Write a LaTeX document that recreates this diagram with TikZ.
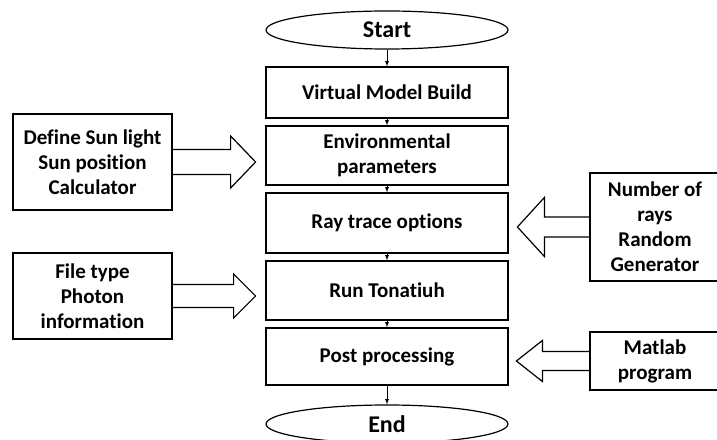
\documentclass[tikz,border=0pt]{standalone}
\usepackage{fontspec}
\setmainfont{Carlito}[Ligatures=NoCommon]
\usepackage{tikz}
\usetikzlibrary{shapes.geometric}

\tikzset{
  stepbox/.style={draw, line width=1.2pt, minimum width=242pt, align=center, inner sep=1pt,
    font=\fontsize{21}{25}\selectfont\bfseries},
  termbox/.style={ellipse, draw, line width=1.2pt, minimum width=242pt, minimum height=38pt, inner sep=0pt,
    font=\fontsize{24}{25}\selectfont\bfseries},
  sidebox/.style={draw, line width=1.2pt, align=center, inner sep=1pt,
    font=\fontsize{21}{25}\selectfont\bfseries},
  flow/.style={-latex, line width=0.8pt},
  hollow/.style={line width=1.2pt, line join=miter}
}

\begin{document}
\begin{tikzpicture}[x=1pt, y=1pt]
\clip (0,0) rectangle (717,439);

% main column
\node[termbox] (start) at (387,409) {Start};
\node[stepbox, minimum height=51pt] (vmb) at (387,346.5) {Virtual Model Build};
\node[stepbox, minimum height=59pt] (env) at (387,283.5) {Environmental\\parameters};
\node[stepbox, minimum height=60pt] (ray) at (387,216) {Ray trace options};
\node[stepbox, minimum height=59pt] (run) at (387,148.5) {Run Tonatiuh};
\node[stepbox, minimum height=57pt] (post) at (387,82.5) {Post processing};
\node[termbox] (end) at (387,15) {End};

\draw[flow] (start) -- (vmb);
\draw[flow] (vmb) -- (env);
\draw[flow] (env) -- (ray);
\draw[flow] (ray) -- (run);
\draw[flow] (run) -- (post);
\draw[flow] (post) -- (end);

% inputs on the left
\node[sidebox, minimum width=159pt, minimum height=96pt] (sun) at (92.5,277) {Define Sun light\\Sun position\\Calculator};
\node[sidebox, minimum width=159pt, minimum height=86pt] (file) at (92.5,143) {File type\\Photon\\information};

% inputs on the right
\node[sidebox, minimum width=130pt, minimum height=108pt] (rays) at (655,212) {Number of\\rays\\Random\\Generator};
\node[sidebox, minimum width=130pt, minimum height=58pt] (matlab) at (655,78) {Matlab\\program};

% block arrows
\draw[hollow] ([yshift=12.5pt]sun.east) -- ++(58,0) -- ++(0,13.5) -- ++(25,-26)
  -- ++(-25,-26) -- ++(0,13.5) -- ([yshift=-12.5pt]sun.east);
\draw[hollow] ([yshift=11.5pt]file.east) -- ++(61,0) -- ++(0,10.5) -- ++(22,-22)
  -- ++(-22,-22) -- ++(0,10.5) -- ([yshift=-11.5pt]file.east);
\draw[hollow] ([yshift=10pt]rays.west) -- ++(-45,0) -- ++(0,19.5) -- ++(-27,-29.5)
  -- ++(27,-29.5) -- ++(0,19.5) -- ([yshift=-10pt]rays.west);
\draw[hollow] ([yshift=9.5pt]matlab.west) -- ++(-47,0) -- ++(0,11) -- ++(-26,-20.5)
  -- ++(26,-20.5) -- ++(0,11) -- ([yshift=-9.5pt]matlab.west);

\end{tikzpicture}
\end{document}
